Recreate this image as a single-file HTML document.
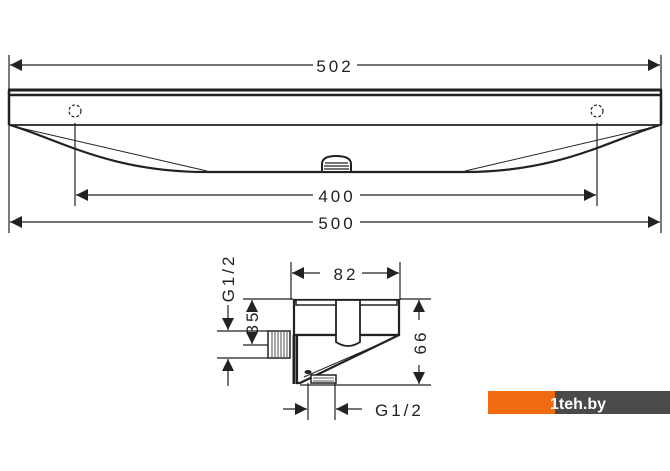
<!DOCTYPE html>
<html><head><meta charset="utf-8"><style>
html,body{margin:0;padding:0;background:#fff;width:670px;height:471px;overflow:hidden}
svg{display:block}
text{font-family:"Liberation Sans",sans-serif;fill:#222;letter-spacing:3px}
</style></head><body>
<svg width="670" height="471" viewBox="0 0 670 471" xmlns="http://www.w3.org/2000/svg">
<defs>
<marker id="a" viewBox="0 0 10 10" refX="10" refY="5" markerWidth="12" markerHeight="12" markerUnits="userSpaceOnUse" orient="auto-start-reverse"><path d="M0,0L10,5L0,10z" fill="#222"/></marker>
</defs>
<g stroke="#222" fill="none" stroke-width="1.2">
<!-- top view extension lines -->
<line x1="9" y1="55" x2="9" y2="233"/>
<line x1="661" y1="55" x2="661" y2="233"/>
<!-- 502 -->
<line x1="10" y1="65" x2="313" y2="65" marker-start="url(#a)"/>
<line x1="357" y1="65" x2="660" y2="65" marker-end="url(#a)"/>
<!-- plate -->
<line x1="8" y1="90" x2="662" y2="90" stroke-width="3"/>
<line x1="9" y1="95" x2="661" y2="95" stroke-width="2.5"/>
<line x1="9" y1="90" x2="9" y2="125" stroke-width="2.5"/>
<line x1="661" y1="90" x2="661" y2="125" stroke-width="2.5"/>
<line x1="9" y1="125" x2="661" y2="125" stroke-width="1.8"/>
<path d="M10,125 C60,140 110,172 207,172 L465,172 C560,172 610,140 660,125" stroke-width="2.2"/>
<line x1="12" y1="126" x2="207" y2="171" stroke-width="1"/>
<line x1="658" y1="126" x2="465" y2="171" stroke-width="1"/>
<circle cx="75" cy="111" r="6" stroke-dasharray="3,2"/>
<circle cx="597" cy="111" r="6" stroke-dasharray="3,2"/>
<line x1="75" y1="123" x2="75" y2="206"/>
<line x1="597" y1="123" x2="597" y2="206"/>
<!-- 400 -->
<line x1="76" y1="195" x2="313" y2="195" marker-start="url(#a)"/>
<line x1="360" y1="195" x2="596" y2="195" marker-end="url(#a)"/>
<!-- 500 -->
<line x1="10" y1="222" x2="313" y2="222" marker-start="url(#a)"/>
<line x1="360" y1="222" x2="660" y2="222" marker-end="url(#a)"/>
</g>
<path d="M322,172 L322,164 Q322,156 336,156 Q351,156 351,164 L351,172z" fill="#fff" stroke="#222" stroke-width="2"/>
<g stroke="#222" stroke-width="1.2"><line x1="325" y1="163" x2="348" y2="163"/><line x1="324" y1="166" x2="349" y2="166"/><line x1="324" y1="169" x2="349" y2="169"/></g>
<text x="335" y="72" font-size="17" text-anchor="middle">502</text>
<text x="337" y="202" font-size="17" text-anchor="middle">400</text>
<text x="337" y="229" font-size="17" text-anchor="middle">500</text>

<!-- side view -->
<g stroke="#222" fill="none" stroke-width="1.2">
<line x1="291" y1="262" x2="291" y2="300"/>
<line x1="400" y1="262" x2="400" y2="300"/>
<line x1="292" y1="273" x2="320" y2="273" marker-start="url(#a)"/>
<line x1="362" y1="273" x2="399" y2="273" marker-end="url(#a)"/>
<line x1="243" y1="299" x2="293" y2="299"/>
<line x1="400" y1="299" x2="431" y2="299"/>
<line x1="300" y1="385" x2="431" y2="385"/>
<line x1="419" y1="300" x2="419" y2="320" marker-start="url(#a)"/>
<line x1="419" y1="365" x2="419" y2="384" marker-end="url(#a)"/>
<line x1="217" y1="331" x2="268" y2="331"/>
<line x1="243" y1="345" x2="268" y2="345"/>
<line x1="217" y1="358" x2="268" y2="358"/>
<line x1="228" y1="305" x2="228" y2="330" marker-end="url(#a)"/>
<line x1="228" y1="359" x2="228" y2="386" marker-start="url(#a)"/>
<line x1="252" y1="300" x2="252" y2="311" marker-start="url(#a)"/>
<line x1="252" y1="334" x2="252" y2="344" marker-end="url(#a)"/>
<line x1="308" y1="383" x2="308" y2="420"/>
<line x1="335" y1="383" x2="335" y2="420"/>
<line x1="283" y1="409" x2="307" y2="409" marker-end="url(#a)"/>
<line x1="336" y1="409" x2="362" y2="409" marker-start="url(#a)"/>
</g>
<!-- body -->
<g stroke="#222" fill="#fff">
<rect x="294" y="300" width="105" height="35" stroke-width="2.2"/>
<rect x="296" y="300" width="101" height="5" stroke-width="1.5"/>
<path d="M399,335 L300,383 L297,383 L297,335z" stroke-width="2.2"/>
<line x1="294" y1="335" x2="294" y2="384" stroke-width="3"/>
<path d="M336,300 L336,342 Q348,350 360,342 L360,300z" stroke-width="1.8"/>
<rect x="268" y="331" width="22" height="27" stroke-width="1.5"/>
<rect x="311" y="375" width="25" height="8" stroke-width="1.5"/>
<path d="M304,377 L396,337" stroke-width="1" fill="none"/>
<ellipse cx="308" cy="372" rx="3" ry="1.5" fill="#222"/>
</g>
<g stroke="#222" stroke-width="0.8">
<line x1="272" y1="332" x2="272" y2="357"/><line x1="275" y1="332" x2="275" y2="357"/><line x1="278" y1="332" x2="278" y2="357"/><line x1="281" y1="332" x2="281" y2="357"/><line x1="284" y1="332" x2="284" y2="357"/><line x1="287" y1="332" x2="287" y2="357"/>
<line x1="313" y1="378" x2="334" y2="378"/><line x1="313" y1="381" x2="334" y2="381"/>
</g>
<text x="346" y="280" font-size="17" text-anchor="middle">82</text>
<text x="375" y="416" font-size="17">G1/2</text>
<text transform="translate(426,342) rotate(-90)" font-size="17" text-anchor="middle">66</text>
<text transform="translate(258,322) rotate(-90)" font-size="17" text-anchor="middle">35</text>
<text transform="translate(234,278) rotate(-90)" font-size="17" text-anchor="middle">G1/2</text>

<!-- watermark -->
<rect x="488" y="391" width="67" height="23" fill="#f26a10"/>
<rect x="555" y="391" width="115" height="23" fill="#4a4a4a"/>
<text x="550" y="409" font-size="16" font-weight="bold" style="fill:#fff;letter-spacing:0">1teh.by</text>
</svg>
</body></html>
